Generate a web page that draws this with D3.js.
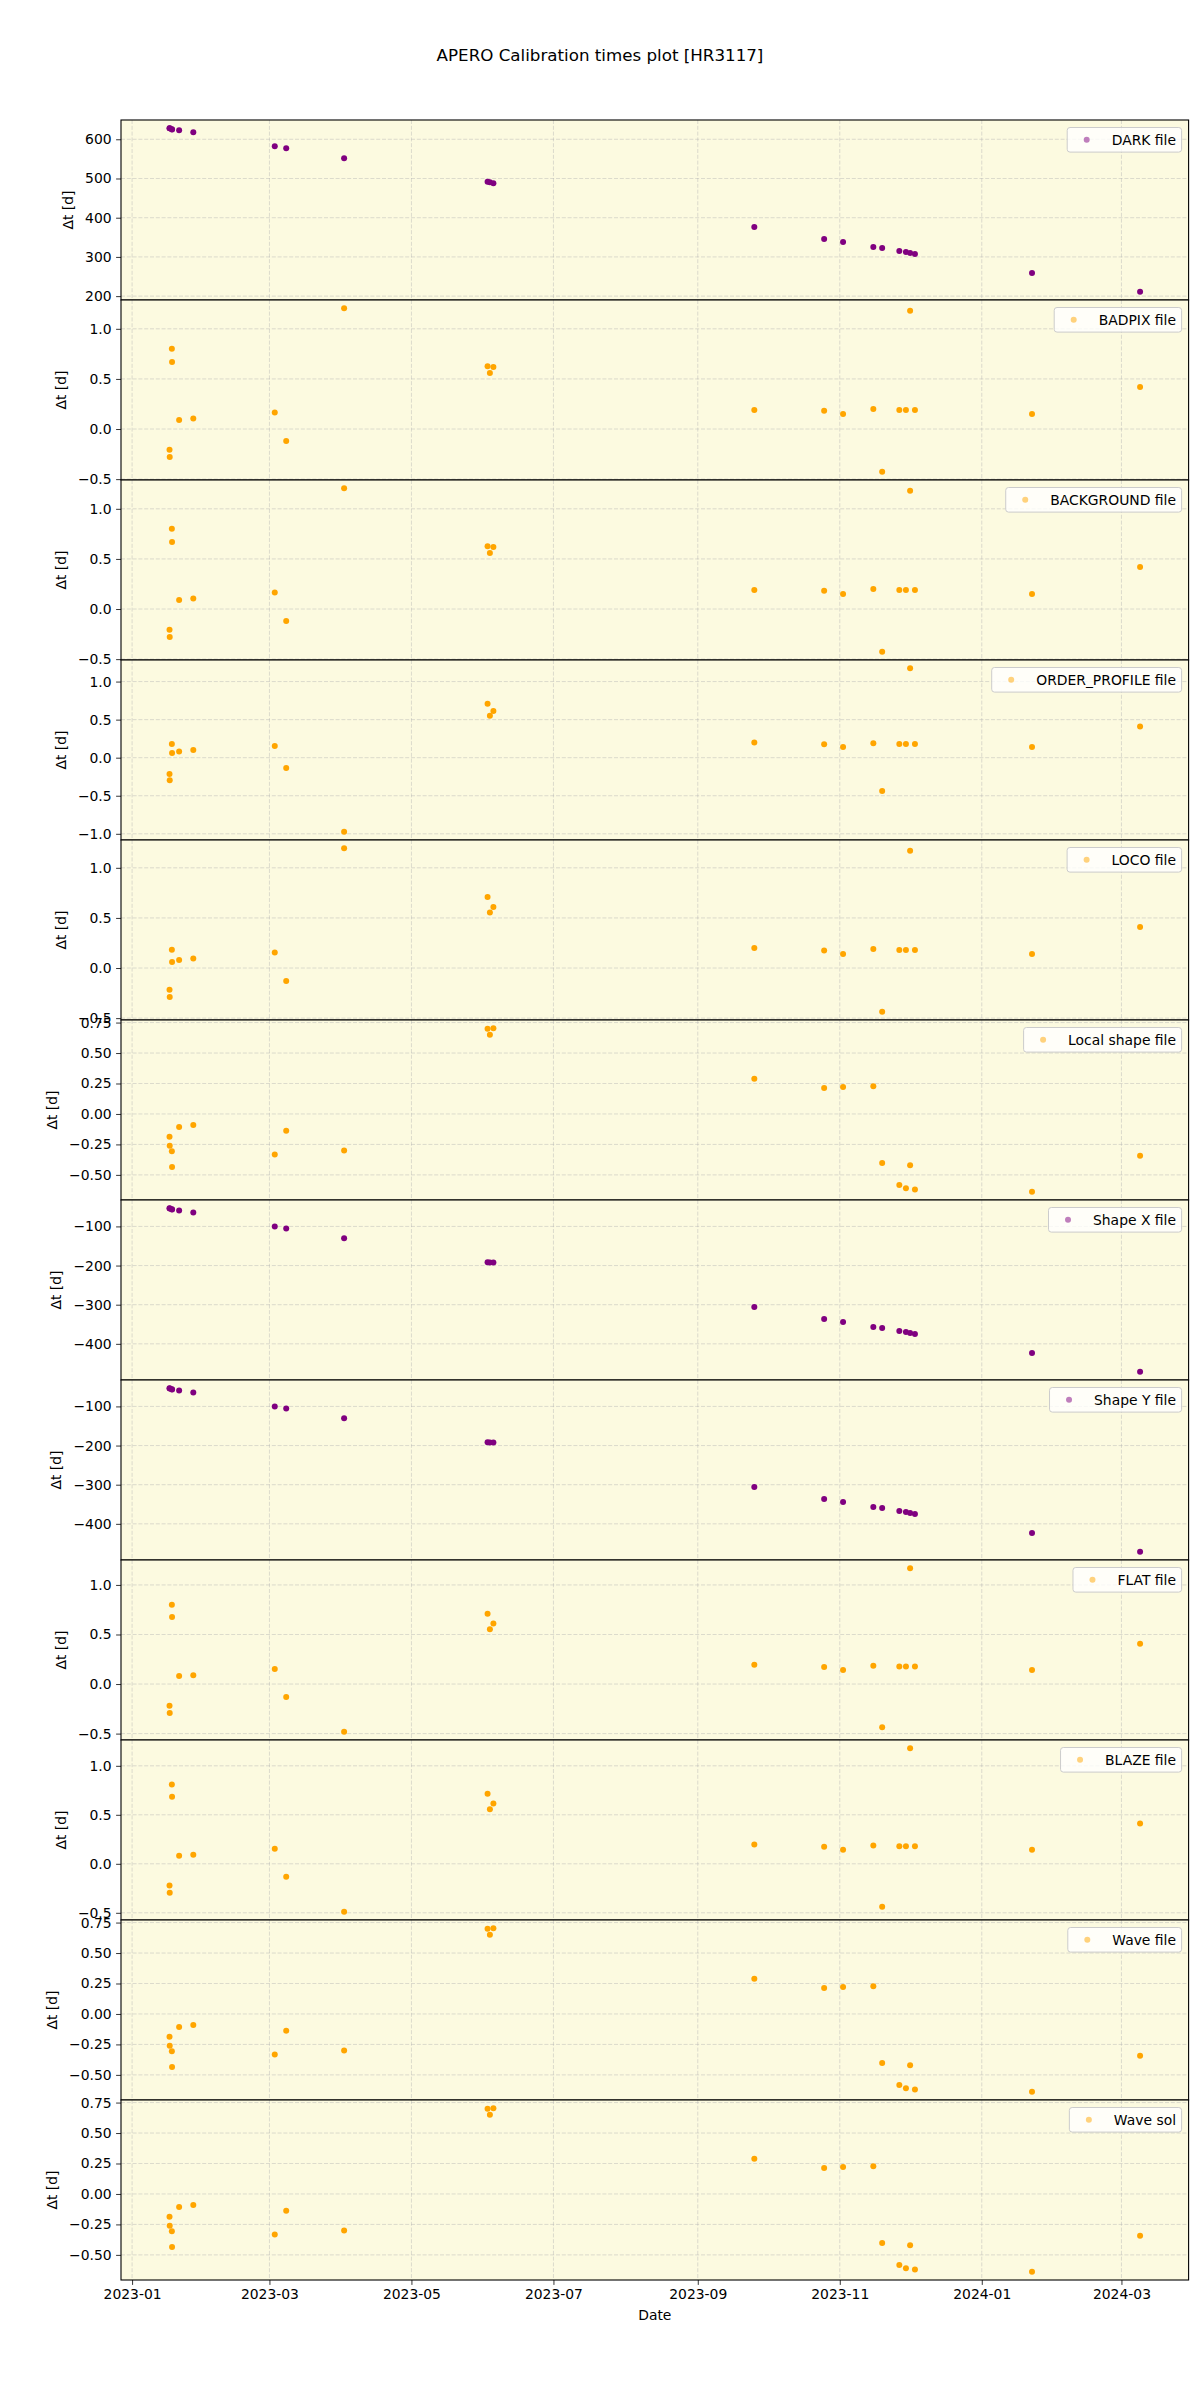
<!DOCTYPE html>
<html><head><meta charset="utf-8">
<script src="https://cdn.jsdelivr.net/npm/d3@7"></script>
<style>body{margin:0;background:#fff}svg{display:block}text{font-family:"DejaVu Sans",sans-serif}</style>
</head><body>
<svg id="chart" width="1200" height="2400"></svg>
<script>
// ---------------- data ----------------
const titleText = "APERO Calibration times plot [HR3117]";
const dates = [
  "2023-01-17T02:00","2023-01-17T04:00","2023-01-18T02:00","2023-01-18T04:00",
  "2023-01-21T05:00","2023-01-27T07:00","2023-03-03T07:00","2023-03-08T05:00",
  "2023-04-02T02:00","2023-06-02T17:00","2023-06-03T17:00","2023-06-05T05:00",
  "2023-09-25T07:00","2023-10-25T07:00","2023-11-02T10:00","2023-11-15T10:00",
  "2023-11-19T05:00","2023-11-26T14:00","2023-11-29T10:00","2023-12-01T05:00",
  "2023-12-03T07:00","2024-01-22T14:00","2024-03-09T00:00"
];
const seriesNames = ["DARK file","BADPIX file","BACKGROUND file","ORDER_PROFILE file","LOCO file",
  "Local shape file","Shape X file","Shape Y file","FLAT file","BLAZE file","Wave file","Wave sol"];
const seriesColors = ["purple","orange","orange","orange","orange","orange","purple","purple","orange","orange","orange","orange"];

const darkValues = [628.3,628.0,625.6,625.2,622.9,617.8,582.2,577.1,551.7,491.5,490.7,488.1,376.3,345.8,338.1,325.4,322.9,315.3,312.7,310.2,307.6,259.3,211.0];
const badpixValues = [-0.207,-0.28,0.80,0.67,0.09,0.106,0.166,-0.12,1.206,0.626,0.56,0.62,0.19,0.183,0.15,0.20,-0.427,0.19,0.19,1.18,0.19,0.15,0.42];
const backgroundValues = [-0.207,-0.28,0.80,0.67,0.09,0.106,0.166,-0.12,1.206,0.626,0.56,0.62,0.19,0.183,0.15,0.20,-0.427,0.19,0.19,1.18,0.19,0.15,0.42];
const orderProfileValues = [-0.214,-0.297,0.18,0.06,0.08,0.10,0.155,-0.135,-0.974,0.708,0.55,0.612,0.20,0.175,0.14,0.19,-0.437,0.18,0.18,1.176,0.18,0.14,0.41];
const locoValues = [-0.217,-0.29,0.183,0.06,0.08,0.096,0.156,-0.13,1.196,0.71,0.553,0.61,0.20,0.176,0.14,0.19,-0.437,0.18,0.18,1.17,0.18,0.14,0.41];
const localShapeValues = [-0.187,-0.26,-0.307,-0.436,-0.107,-0.09,-0.332,-0.137,-0.299,0.699,0.65,0.704,0.29,0.214,0.222,0.227,-0.403,-0.584,-0.609,-0.42,-0.62,-0.639,-0.343];
const shapeXValues = [-53.4,-54.0,-56.0,-56.5,-59.3,-64.4,-100,-105,-130.5,-191.6,-192.0,-192.5,-306,-336.6,-344.3,-357,-359.5,-367.2,-369.7,-372,-374.8,-423.2,-471.5];
const shapeYValues = [-53.4,-54.0,-56.0,-56.5,-59.3,-64.4,-100,-105,-130.5,-191.6,-192.0,-192.5,-306,-336.6,-344.3,-357,-359.5,-367.2,-369.7,-372,-374.8,-423.2,-471.5];
const flatValues = [-0.22,-0.293,0.80,0.677,0.08,0.09,0.152,-0.131,-0.482,0.708,0.552,0.61,0.195,0.172,0.142,0.185,-0.435,0.178,0.178,1.169,0.178,0.142,0.407];
const blazeValues = [-0.221,-0.296,0.809,0.684,0.082,0.092,0.153,-0.133,-0.49,0.714,0.557,0.615,0.197,0.173,0.143,0.187,-0.439,0.18,0.18,1.18,0.18,0.143,0.411];
const waveFileValues = [-0.187,-0.26,-0.307,-0.436,-0.107,-0.09,-0.332,-0.137,-0.299,0.699,0.65,0.704,0.29,0.214,0.222,0.227,-0.403,-0.584,-0.609,-0.42,-0.62,-0.639,-0.343];
const waveSolValues = [-0.187,-0.26,-0.307,-0.436,-0.107,-0.09,-0.332,-0.137,-0.299,0.699,0.65,0.704,0.29,0.214,0.222,0.227,-0.403,-0.584,-0.609,-0.42,-0.62,-0.639,-0.343];
const seriesValues = [darkValues,badpixValues,backgroundValues,orderProfileValues,locoValues,localShapeValues,
  shapeXValues,shapeYValues,flatValues,blazeValues,waveFileValues,waveSolValues];

const yTicksHalf = [-0.5,0,0.5,1.0];
const yTicksQuarter = [-0.5,-0.25,0,0.25,0.5,0.75];
const yTicksDark = [200,300,400,500,600];
const yTicksShape = [-400,-300,-200,-100];
const yTicksOrder = [-1.0,-0.5,0,0.5,1.0];
const seriesYTicks = [yTicksDark,yTicksHalf,yTicksHalf,yTicksOrder,yTicksHalf,yTicksQuarter,
  yTicksShape,yTicksShape,yTicksHalf,yTicksHalf,yTicksQuarter,yTicksQuarter];
const seriesTickFormat = ["d",".1f",".1f",".1f",".1f",".2f","d","d",".1f",".1f",".2f",".2f"];
const xTickLabels = ["2023-01","2023-03","2023-05","2023-07","2023-09","2023-11","2024-01","2024-03"];
const yLabelText = "\u0394t [d]";
const xLabelText = "Date";

// ---------------- layout ----------------
const L = 121, R = 1188.6, T = 120, PH = 180;
const FS = 13.9;
const bg = "#fcfae0";
const svg = d3.select("#chart");
const parse = d3.isoParse;
const dts = dates.map(d => parse(d));
const ext = d3.extent(dts);
const span = ext[1] - ext[0];
const x = d3.scaleTime().domain([new Date(+ext[0] - 0.05*span), new Date(+ext[1] + 0.05*span)]).range([L, R]);
const xTicks = xTickLabels.map(s => d3.timeParse("%Y-%m")(s));

svg.append("text").attr("x", 600).attr("y", 61).attr("text-anchor","middle")
  .attr("font-size", 16.7).text(titleText);

seriesNames.forEach((name, i) => {
  const top = T + i*PH, bot = top + PH;
  const vals = seriesValues[i];
  const e = d3.extent(vals);
  const pad = 0.05*(e[1]-e[0]);
  const y = d3.scaleLinear().domain([e[0]-pad, e[1]+pad]).range([bot, top]);
  const g = svg.append("g");
  g.append("rect").attr("x", L).attr("y", top).attr("width", R-L).attr("height", PH).attr("fill", bg);
  const clipId = "clip"+i;
  g.append("clipPath").attr("id", clipId).append("rect").attr("x", L).attr("y", top).attr("width", R-L).attr("height", PH);
  const grid = g.append("g").attr("clip-path", `url(#${clipId})`);
  xTicks.forEach(t => grid.append("line").attr("x1", x(t)).attr("x2", x(t)).attr("y1", top).attr("y2", bot)
    .attr("stroke","#b0b0b0").attr("stroke-opacity",0.55).attr("stroke-width",0.8).attr("stroke-dasharray","4,1.8"));
  const yt = seriesYTicks[i].filter(v => v >= y.domain()[0] && v <= y.domain()[1]);
  yt.forEach(v => grid.append("line").attr("x1", L).attr("x2", R).attr("y1", y(v)).attr("y2", y(v))
    .attr("stroke","#b0b0b0").attr("stroke-opacity",0.55).attr("stroke-width",0.8).attr("stroke-dasharray","4,1.8"));
  grid.selectAll("circle.pt").data(vals).join("circle").attr("class","pt")
    .attr("cx", (v,j) => x(dts[j])).attr("cy", v => y(v)).attr("r", 3).attr("fill", seriesColors[i]);
  // y axis
  const fmt = d3.format(seriesTickFormat[i]);
  const axis = d3.axisLeft(y).tickValues(yt).tickFormat(fmt).tickSize(4.9).tickPadding(4.5);
  const ag = g.append("g").attr("transform", `translate(${L},0)`).call(axis);
  ag.select(".domain").remove();
  ag.selectAll("line").attr("stroke","#000").attr("stroke-width",0.8);
  ag.selectAll("text").attr("font-size", FS).attr("fill","#000").attr("font-family","DejaVu Sans");
  let minLeft = 1e9;
  ag.selectAll("text").each(function(){ const b = this.getBBox(); minLeft = Math.min(minLeft, L + b.x); });
  const ly = (top+bot)/2;
  const lx = minLeft - 12;
  g.append("text").attr("transform", `translate(${lx},${ly}) rotate(-90)`).attr("text-anchor","middle")
    .attr("font-size", FS).text(yLabelText);
  // spines
  g.append("rect").attr("x", L).attr("y", top).attr("width", R-L).attr("height", PH)
    .attr("fill","none").attr("stroke","#000").attr("stroke-width",1.1);
  // legend
  const lg = g.append("g");
  const txt = lg.append("text").attr("font-size", FS).text(name);
  const tw = txt.node().getComputedTextLength();
  const bw = 5.6 + 27.8 + 11.1 + tw + 5.6, bh = 24.6;
  const bx = R - 7 - bw, by = top + 7.5;
  lg.insert("rect", "text").attr("x", bx).attr("y", by).attr("width", bw).attr("height", bh).attr("rx", 2.8)
    .attr("fill","#fff").attr("fill-opacity",0.8).attr("stroke","#cccccc").attr("stroke-width",1);
  lg.append("circle").attr("cx", bx + 19.5).attr("cy", by + bh/2).attr("r", 3)
    .attr("fill", seriesColors[i]).attr("fill-opacity", 0.5);
  txt.attr("x", bx + 44.5).attr("y", by + bh/2 + 5);
});

// x axis on bottom panel
const bottom = T + seriesNames.length*PH;
const xa = svg.append("g").attr("transform", `translate(0,${bottom})`)
  .call(d3.axisBottom(x).tickValues(xTicks).tickFormat(d3.timeFormat("%Y-%m")).tickSize(4.9).tickPadding(4.5));
xa.select(".domain").remove();
xa.selectAll("line").attr("stroke","#000").attr("stroke-width",0.8);
xa.selectAll("text").attr("font-size", FS).attr("fill","#000").attr("font-family","DejaVu Sans");
svg.append("text").attr("x", (L+R)/2).attr("y", 2320).attr("text-anchor","middle").attr("font-size", FS).text(xLabelText);
</script>
</body></html>
